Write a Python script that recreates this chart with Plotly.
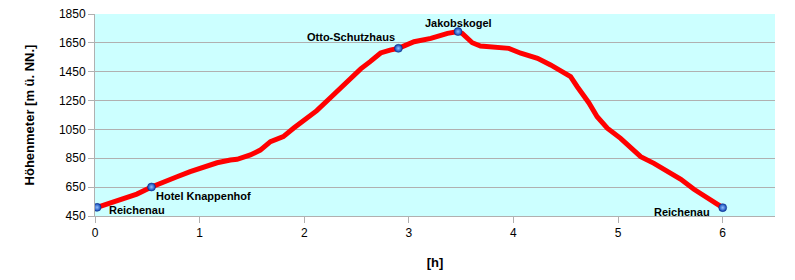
import plotly.graph_objects as go

# Elevation profile: time [h] vs elevation [m]
time_h = [0.02, 0.147, 0.274, 0.40, 0.54, 0.656, 0.784, 0.91, 1.04, 1.167, 1.294, 1.358,
          1.485, 1.58, 1.677, 1.80, 1.90, 2.0, 2.12, 2.25, 2.38, 2.47, 2.54, 2.63, 2.73,
          2.82, 2.90, 3.05, 3.21, 3.37, 3.47, 3.51, 3.606, 3.685, 3.78, 3.83, 3.956, 4.07,
          4.23, 4.355, 4.48, 4.546, 4.61, 4.72, 4.80, 4.897, 5.024, 5.12, 5.216, 5.343,
          5.47, 5.60, 5.725, 5.853, 6.0]
elev_m = [510, 538, 573, 602, 651, 688, 722, 757, 792, 819, 838, 843,
          873, 907, 965, 1000, 1060, 1112, 1180, 1270, 1358, 1425, 1470, 1520, 1580,
          1600, 1612, 1658, 1681, 1716, 1728, 1716, 1651, 1628, 1623, 1612, 1612, 1578,
          1543, 1497, 1443, 1416, 1346, 1235, 1138, 1058, 988, 919, 861, 815,
          757, 704, 635, 579, 508]

# Waypoints
wp_names = ["Reichenau", "Hotel Knappenhof", "Otto-Schutzhaus", "Jakobskogel", "Reichenau"]
wp_time = [0.02, 0.54, 2.90, 3.47, 6.0]
wp_elev = [510, 651, 1612, 1728, 508]

y_ticks = [450, 650, 850, 1050, 1250, 1450, 1650, 1850]
x_ticks = [0, 1, 2, 3, 4, 5, 6]

fig = go.Figure()
fig.add_trace(go.Scatter(x=time_h, y=elev_m, mode="lines",
                         line=dict(color="#ff0000", width=5), hoverinfo="skip"))
fig.add_trace(go.Scatter(x=wp_time, y=wp_elev, mode="markers",
                         marker=dict(size=8, color="#0a3fb0",
                                     gradient=dict(type="radial", color="#8fc0ff"),
                                     line=dict(width=0.5, color="#0a2a80"))))

# label placement (anchor, xshift, yshift)
placement = [("left", 10, -3), ("left", 3, -9), ("right", -1, 11), ("center", 0, 9), ("right", -11, -4)]
for name, t, e, (anc, xs, ys) in zip(wp_names, wp_time, wp_elev, placement):
    fig.add_annotation(x=t, y=e, text="<b>" + name + "</b>", showarrow=False,
                       xanchor=anc, yanchor="middle", xshift=xs, yshift=ys,
                       font=dict(family="Liberation Sans, Arial", size=11, color="#000000"))

fig.update_layout(
    width=795, height=280,
    margin=dict(l=95, r=20, t=14, b=64),
    paper_bgcolor="#ffffff", plot_bgcolor="#ccffff",
    showlegend=False,
    font=dict(family="Liberation Sans, Arial", size=12, color="#000000"),
)
fig.update_xaxes(range=[0, 6.5], tickvals=x_ticks, showgrid=False, zeroline=False,
                 showline=True, linecolor="#b0b0b0", linewidth=1, automargin=False,
                 ticks="outside", ticklen=6, tickcolor="#b0b0b0",
                 title=dict(text="<b>[h]</b>", font=dict(size=13), standoff=18))
fig.update_yaxes(range=[450, 1850], tickvals=y_ticks, showgrid=True, gridcolor="#b0b0b0",
                 zeroline=False, showline=True, linecolor="#b0b0b0", linewidth=1, automargin=False,
                 ticks="outside", ticklen=6, tickcolor="#b0b0b0",
                 title=dict(text="<b>Höhenmeter [m ü. NN.]</b>", font=dict(size=13), standoff=21))

fig.write_html("out.html")
